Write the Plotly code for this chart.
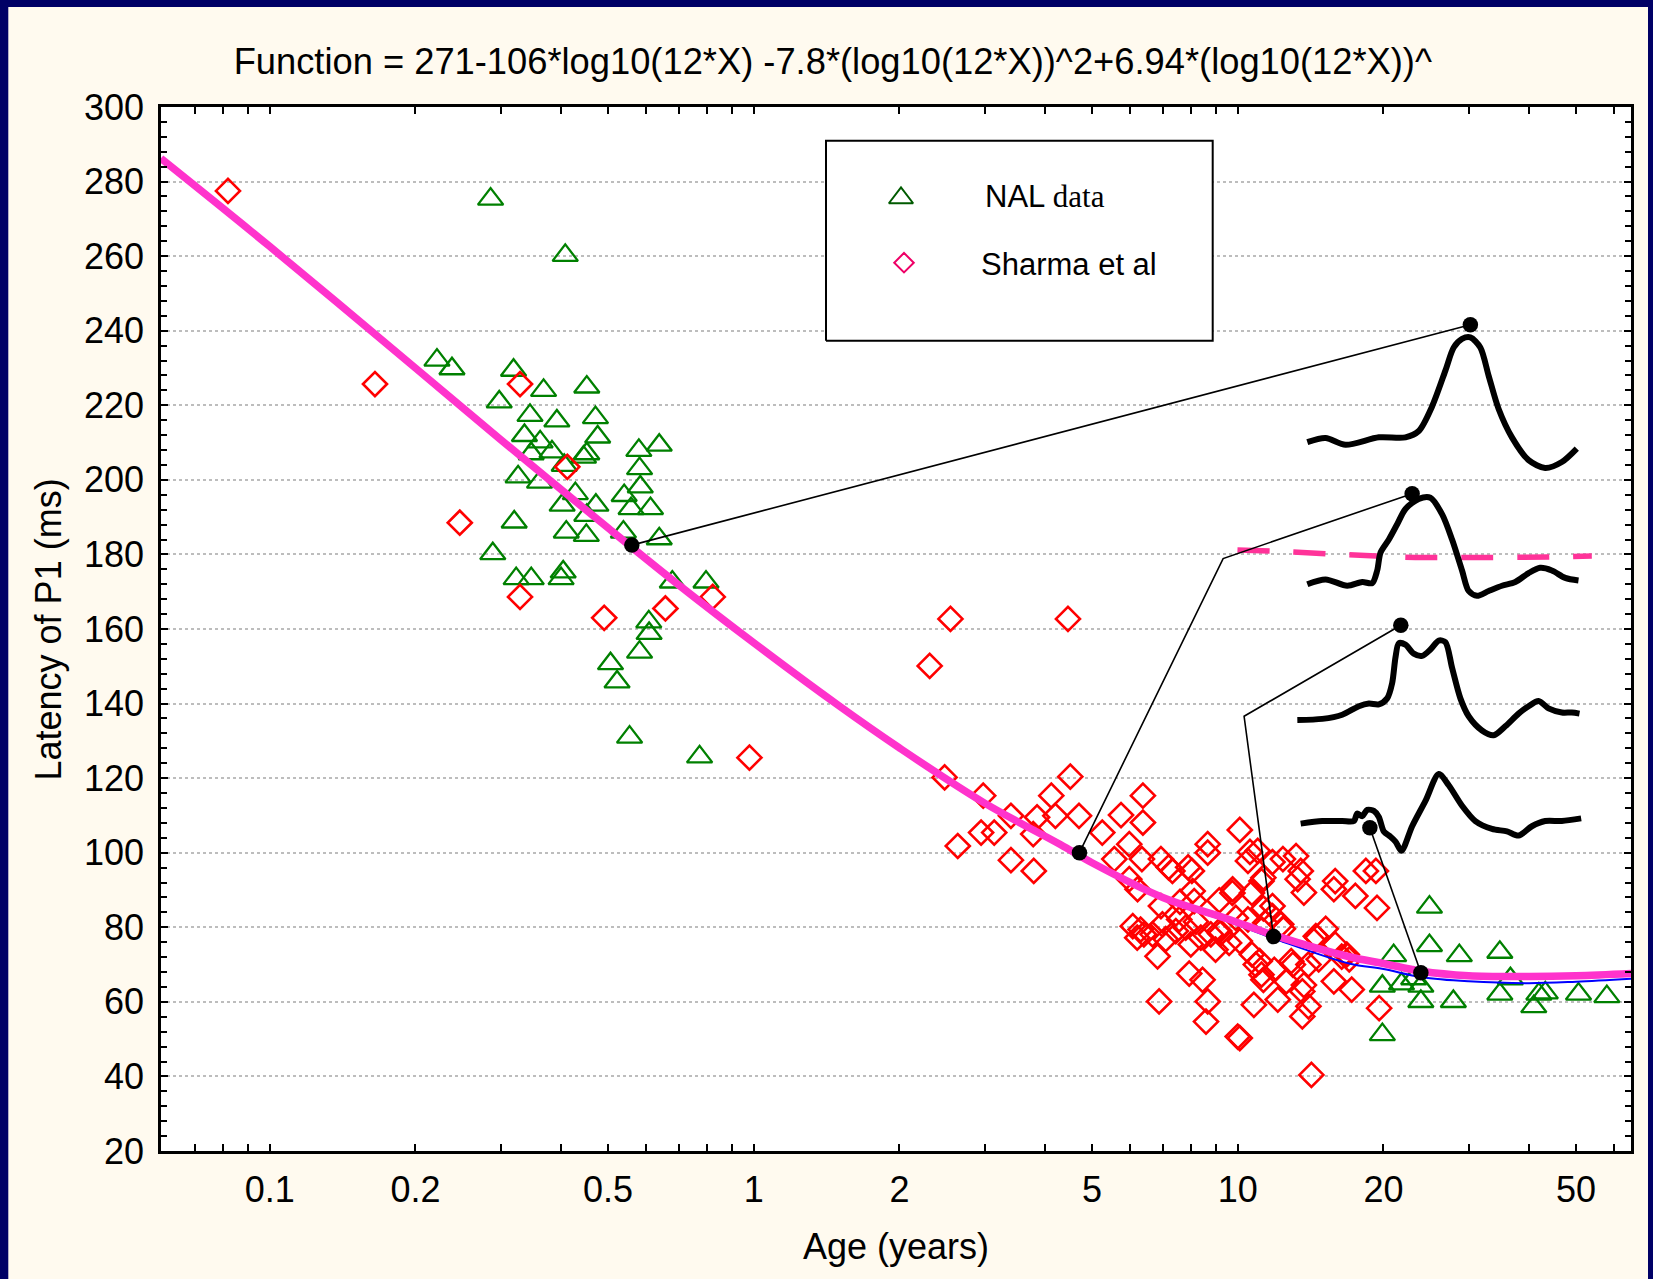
import numpy as np
import plotly.graph_objects as go

# ---------------- data ----------------
nal_age = [0.286, 0.408, 0.2216, 0.238, 0.319, 0.368, 0.452, 0.298, 0.345, 0.392,
           0.471, 0.336, 0.476, 0.362, 0.383, 0.347, 0.452, 0.445, 0.406, 0.579,
           0.638, 0.581, 0.326, 0.361, 0.428, 0.472, 0.540, 0.583, 0.402, 0.612,
           0.558, 0.452, 0.320, 0.410, 0.451, 0.538, 0.638, 0.289, 0.323, 0.347,
           0.404, 0.400, 0.679, 0.797, 0.607, 0.608, 0.581, 0.506, 0.522, 0.554,
           0.773,
           24.9, 21.0, 24.9, 28.7, 34.8, 36.6, 19.9, 19.9, 21.8, 23.1,
           23.9, 27.9, 34.8, 40.9, 41.9, 43.2, 50.6, 57.9, 23.9]
nal_latency = [275.3, 260.2, 232.1, 229.8, 229.4, 224.0, 224.9, 220.9, 217.3, 215.8,
               216.7, 211.9, 211.5, 210.2, 207.5, 207.0, 207.0, 206.1, 203.9, 207.9,
               209.3, 203.0, 200.8, 199.4, 196.3, 193.2, 195.8, 198.1, 193.2, 192.3,
               192.3, 190.5, 188.7, 186.0, 185.1, 186.0, 184.2, 180.2, 173.5, 173.5,
               175.3, 173.5, 172.6, 172.6, 161.9, 158.8, 153.8, 150.7, 145.8, 131.0,
               125.7,
               85.4, 72.4, 75.1, 72.4, 73.3, 66.2, 64.2, 51.2, 64.8, 66.2,
               60.1, 60.1, 62.1, 58.7, 62.1, 62.4, 62.1, 61.4, 64.2]

sharma_age = [0.082, 0.165, 0.329, 0.247, 0.412, 0.329, 0.491, 0.657, 0.823, 0.980,
              2.55, 4.46, 2.31, 2.48, 4.51, 2.98, 4.12, 3.40, 3.85, 4.20,
              4.70, 2.95, 3.14, 3.78, 2.64, 3.40, 3.79, 5.25, 5.74, 6.37,
              6.37, 5.97, 5.56, 6.34, 6.94, 7.33, 8.04, 8.67, 8.67, 5.97,
              6.21, 10.1, 11.0, 10.5, 12.4, 13.2, 13.5, 13.3, 13.7, 11.2,
              9.76, 9.16, 8.07, 8.13, 6.94, 15.9, 15.8, 17.5, 18.4, 19.3,
              19.4, 11.8, 11.8, 11.4, 12.3, 10.5, 9.91, 9.16, 6.07, 6.3,
              6.2, 6.4, 6.67, 6.99, 7.45, 7.57, 7.81, 8.0, 8.39, 8.80,
              9.60, 10.1, 10.7, 11.1, 11.2, 11.9, 12.9, 14.0, 14.6, 15.9,
              16.8, 15.8, 17.2, 12.6, 13.6, 12.1, 14.0, 13.6, 19.6, 10.8,
              7.94, 8.46, 8.67, 8.60, 6.88, 6.83, 10.1, 10.0, 14.2, 14.7,
              16.4, 17.0, 13.7, 9.2, 9.75, 10.7, 11.3, 11.3, 11.8, 10.6,
              7.2, 7.9, 12.4, 14.5, 15.2, 13.0, 11.3, 10.9, 7.6, 8.2,
              7.1, 9.0]
sharma_latency = [277.5, 225.7, 225.7, 188.5, 203.5, 168.6, 163.0, 165.5, 168.6, 125.5,
                  162.7, 162.7, 150.1, 120.2, 120.4, 115.3, 115.3, 109.9, 109.5, 109.9,
                  109.9, 105.4, 105.4, 105.0, 101.8, 98.0, 95.1, 105.4, 110.1, 115.3,
                  108.1, 102.3, 98.3, 98.3, 98.3, 95.1, 95.1, 102.3, 100.0, 92.9,
                  90.2, 106.1, 100.5, 97.8, 98.3, 99.1, 95.1, 92.9, 89.3, 92.4,
                  90.2, 87.2, 89.7, 87.0, 85.7, 92.4, 90.2, 88.4, 95.1, 95.1,
                  85.2, 85.7, 83.0, 81.2, 80.8, 82.1, 82.5, 79.0, 80.3, 79.4,
                  77.2, 78.1, 78.1, 80.8, 79.0, 82.1, 79.9, 75.4, 77.2, 78.1,
                  75.8, 76.3, 72.7, 70.9, 67.3, 68.6, 70.9, 70.0, 77.2, 75.4,
                  72.7, 65.5, 63.3, 65.5, 62.8, 60.6, 58.8, 56.1, 58.3, 59.2,
                  67.6, 65.9, 60.1, 54.7, 60.1, 72.2, 50.3, 50.7, 40.4, 71.4,
                  72.1, 71.4, 64.5, 78.3, 89.2, 89.2, 85.1, 93.3, 97.5, 100.2,
                  96.1, 96.1, 79.6, 77.6, 79.6, 70.0, 65.9, 70.0, 86.8, 81.5,
                  76.8, 74.0]

# fitted curve (magenta) and second fit (blue)
fit_age = [0.0596, 0.1, 0.2, 0.3, 0.5, 0.7, 1, 1.5, 2, 3, 4.3, 5, 7, 9.5, 12, 17, 20, 24, 30, 40, 50, 65]
fit_latency = [286.2, 262.6, 230.0, 210.8, 187.1, 171.8, 156.3, 139.4, 128.1, 113.3, 102.2, 97.3,
               88.0, 82.3, 77.7, 72.1, 70.3, 68.2, 67.0, 66.8, 67.0, 67.6]
alt_fit_age = [0.0596, 0.1, 0.2, 0.3, 0.5, 0.7, 1, 1.5, 2, 3, 4.7, 7, 9.5, 12, 17, 20, 24, 30, 40, 50, 65]
alt_fit_latency = [286.2, 262.6, 230.0, 210.8, 187.1, 171.8, 156.3, 139.4, 128.1, 113.3, 99.9, 87.5,
                   81.7, 76.8, 70.3, 68.8, 66.6, 65.5, 65.0, 65.4, 66.2]

# tick labels
x_tick_vals = [0.07, 0.08, 0.09, 0.1, 0.2, 0.3, 0.4, 0.5, 0.6, 0.7, 0.8, 0.9,
               1, 2, 3, 4, 5, 6, 7, 8, 9, 10, 20, 30, 40, 50, 60]
x_tick_labels = ['', '', '', '0.1', '0.2', '', '', '0.5', '', '', '', '',
                 '1', '2', '', '', '5', '', '', '', '', '10', '20', '', '', '50', '']
y_tick_vals = [20, 40, 60, 80, 100, 120, 140, 160, 180, 200, 220, 240, 260, 280, 300]

# inset waveforms (x in log10 years, y in ms)
wave1_logx = [1.1438, 1.1816, 1.2229, 1.2916, 1.3466, 1.3741, 1.4016, 1.4291, 1.4463, 1.4635,
              1.4807, 1.5013, 1.5185, 1.5391, 1.5666, 1.6010, 1.6353, 1.6697, 1.7006]
wave1_lat = [210.1, 211.2, 209.4, 211.4, 211.4, 213.1, 219.7, 229.3, 235.5, 237.8,
             238.2, 235.5, 227.9, 219.0, 211.4, 205.3, 203.2, 204.8, 208.4]
wave2_logx = [1.1438, 1.1816, 1.2263, 1.2573, 1.2779, 1.2882, 1.2951, 1.3123, 1.3295, 1.3466,
              1.3741, 1.3982, 1.4222, 1.4429, 1.4635, 1.4772, 1.4944, 1.5185, 1.5460, 1.5735,
              1.6010, 1.6250, 1.6491, 1.6766, 1.7041]
wave2_lat = [172.0, 173.3, 171.6, 172.6, 172.3, 175.7, 180.5, 184.0, 188.1, 192.2,
             194.9, 195.2, 190.8, 184.0, 175.7, 170.2, 168.9, 170.2, 171.6, 172.6,
             175.0, 176.4, 175.7, 173.7, 173.0]
wave3_logx = [1.1232, 1.1748, 1.2160, 1.2504, 1.2710, 1.2916, 1.3088, 1.3191, 1.3260, 1.3329,
              1.3466, 1.3638, 1.3810, 1.3982, 1.4154, 1.4291, 1.4429, 1.4601, 1.4772, 1.5047,
              1.5288, 1.5528, 1.5803, 1.6010, 1.6216, 1.6422, 1.6697, 1.6903, 1.7062]
wave3_lat = [135.6, 135.9, 137.0, 139.3, 140.0, 139.8, 141.4, 145.5, 152.4, 156.2,
             155.8, 153.4, 152.8, 154.5, 156.9, 156.5, 149.6, 141.4, 136.6, 132.8,
             131.5, 133.9, 137.3, 139.3, 140.7, 138.7, 137.6, 137.6, 137.3]
wave4_logx = [1.1301, 1.1748, 1.2160, 1.2401, 1.2469, 1.2573, 1.2676, 1.2813, 1.2916, 1.3019,
              1.3157, 1.3260, 1.3384, 1.3604, 1.3879, 1.4154, 1.4360, 1.4635, 1.4910, 1.5254,
              1.5563, 1.5804, 1.6078, 1.6353, 1.6697, 1.7096]
wave4_lat = [107.8, 108.5, 108.5, 108.5, 110.5, 109.8, 111.5, 111.2, 109.6, 105.7,
             104.3, 103.0, 100.5, 107.1, 113.9, 121.1, 118.1, 112.6, 108.5, 106.4,
             105.7, 104.6, 107.1, 108.5, 108.5, 109.2]
ref_logx = [0.9995, 1.0923, 1.2298, 1.3672, 1.5047, 1.6422, 1.7316]
ref_lat = [181.2, 180.8, 179.9, 179.2, 179.2, 179.3, 179.6]

# connectors: curve point -> (bend) -> waveform peak
link_logx = [[-0.2518, 1.4807], [0.6730, 0.9699, 1.3604], [1.0741, 1.0132, 1.3370], [1.3784, 1.2731]]
link_lat = [[182.5, 241.6], [100.0, 178.9, 196.3], [77.5, 136.6, 161.0], [67.8, 106.7]]

# ---------------- figure ----------------
W, H = 1653, 1279
ML, MR, MT, MB = 161, 22, 107, 128
PW, PH = W - ML - MR, H - MT - MB
FONT = "Liberation Sans, Arial, sans-serif"
CREAM = "#FFFAEF"
NAVY = "#000066"


def px_x(p):
    return (p - ML) / PW


def px_y(p):
    return (H - MB - p) / PH


fig = go.Figure()

fig.add_trace(go.Scatter(x=nal_age, y=nal_latency, mode="markers",
                         marker=dict(symbol="triangle-up-open", size=22, color="#008000",
                                     line=dict(width=2.3, color="#008000"))))
fig.add_trace(go.Scatter(x=sharma_age, y=sharma_latency, mode="markers",
                         marker=dict(symbol="diamond-open", size=18.5, color="#FF0000",
                                     line=dict(width=2.6, color="#FF0000"))))
fig.add_trace(go.Scatter(x=alt_fit_age, y=alt_fit_latency, mode="lines",
                         line=dict(color="#0000FF", width=2, shape="spline")))
fig.add_trace(go.Scatter(x=fit_age, y=fit_latency, mode="lines",
                         line=dict(color="#FF33CC", width=7.5, shape="spline")))

fig.add_trace(go.Scatter(x=10 ** np.array(ref_logx), y=ref_lat, mode="lines",
                         line=dict(color="#FF3399", width=5.5, dash="32px,24px", shape="spline")))

for lx, ly in [(wave1_logx, wave1_lat), (wave2_logx, wave2_lat),
               (wave3_logx, wave3_lat), (wave4_logx, wave4_lat)]:
    fig.add_trace(go.Scatter(x=10 ** np.array(lx), y=ly, mode="lines",
                             line=dict(color="black", width=6, shape="spline", smoothing=0.8)))

dot_x, dot_y = [], []
for lx, ly in zip(link_logx, link_lat):
    fig.add_trace(go.Scatter(x=10 ** np.array(lx), y=ly, mode="lines",
                             line=dict(color="black", width=1.6)))
    dot_x += [10 ** lx[0], 10 ** lx[-1]]
    dot_y += [ly[0], ly[-1]]
fig.add_trace(go.Scatter(x=dot_x, y=dot_y, mode="markers",
                         marker=dict(symbol="circle", size=15.5, color="black")))

# legend box and keys (overlay axes measured in plot-area fractions)
bx0, bx1, by0, by1 = px_x(826), px_x(1212.7), px_y(340.7), px_y(140.7)
fig.add_trace(go.Scatter(x=[bx0, bx1, bx1, bx0, bx0], y=[by0, by0, by1, by1, by0],
                         mode="lines", fill="toself", fillcolor="white",
                         line=dict(color="black", width=2), xaxis="x2", yaxis="y2"))
fig.add_trace(go.Scatter(x=[px_x(901)], y=[px_y(198)], mode="markers", xaxis="x2", yaxis="y2",
                         marker=dict(symbol="triangle-up-open", size=21, color="#005A00",
                                     line=dict(width=2, color="#005A00"))))
fig.add_trace(go.Scatter(x=[px_x(904)], y=[px_y(262.7)], mode="markers", xaxis="x2", yaxis="y2",
                         marker=dict(symbol="diamond-open", size=15, color="#EE0066",
                                     line=dict(width=2, color="#EE0066"))))

shapes = [
    dict(type="rect", xref="paper", yref="paper", layer="above",
         x0=px_x(0), x1=px_x(8.3), y0=px_y(H), y1=px_y(0), line=dict(width=0), fillcolor=NAVY),
    dict(type="rect", xref="paper", yref="paper", layer="above",
         x0=px_x(0), x1=px_x(W), y0=px_y(7), y1=px_y(0), line=dict(width=0), fillcolor=NAVY),
    dict(type="rect", xref="paper", yref="paper", layer="above",
         x0=px_x(1648), x1=px_x(W), y0=px_y(H), y1=px_y(0), line=dict(width=0), fillcolor=NAVY),
]

annotations = [
    dict(text="Age (years)", xref="paper", yref="paper", x=0.5, y=px_y(1247),
         xanchor="center", yanchor="middle", showarrow=False,
         font=dict(family=FONT, size=36, color="black")),
    dict(text="Latency of P1 (ms)", xref="paper", yref="paper", x=px_x(47.5), y=0.5,
         xanchor="center", yanchor="middle", textangle=-90, showarrow=False,
         font=dict(family=FONT, size=36, color="black")),
    dict(text='NAL <span style="font-family:Liberation Serif, Times New Roman, serif">data</span>',
         xref="paper", yref="paper", x=px_x(983), y=px_y(196), xanchor="left", yanchor="middle",
         showarrow=False, font=dict(family=FONT, size=31, color="black")),
    dict(text="Sharma et al", xref="paper", yref="paper", x=px_x(979), y=px_y(264),
         xanchor="left", yanchor="middle", showarrow=False,
         font=dict(family=FONT, size=31, color="black")),
]

fig.update_layout(
    width=W, height=H,
    margin=dict(l=ML, r=MR, t=MT, b=MB, pad=0),
    paper_bgcolor=CREAM, plot_bgcolor="white",
    showlegend=False,
    title=dict(text="Function = 271-106*log10(12*X) -7.8*(log10(12*X))^2+6.94*(log10(12*X))^",
               xref="container", yref="container", x=832.8 / W, y=1 - 61 / H,
               xanchor="center", yanchor="middle",
               font=dict(family=FONT, size=36.3, color="black")),
    xaxis=dict(type="log", range=[-1.2246, 1.8126], tickvals=x_tick_vals, ticktext=x_tick_labels,
               ticks="inside", ticklen=7, tickwidth=2, tickcolor="black",
               showline=True, linecolor="black", linewidth=2.5, mirror="ticks",
               showgrid=False, zeroline=False, ticklabelstandoff=5,
               tickfont=dict(family=FONT, size=36, color="black")),
    yaxis=dict(range=[20, 300], tickvals=y_tick_vals,
               ticks="inside", ticklen=7, tickwidth=2, tickcolor="black",
               showline=True, linecolor="black", linewidth=2.5, mirror="ticks",
               showgrid=True, gridcolor="#BDBDBD", gridwidth=1.5, griddash="dot",
               zeroline=False, ticklabelstandoff=7,
               minor=dict(dtick=4, tick0=0, ticks="inside", ticklen=6, tickwidth=2,
                          tickcolor="black", showgrid=False),
               tickfont=dict(family=FONT, size=36, color="black")),
    xaxis2=dict(overlaying="x", range=[0, 1], visible=False),
    yaxis2=dict(overlaying="y", range=[0, 1], visible=False),
    shapes=shapes,
    annotations=annotations,
)

fig.write_html("out.html")
